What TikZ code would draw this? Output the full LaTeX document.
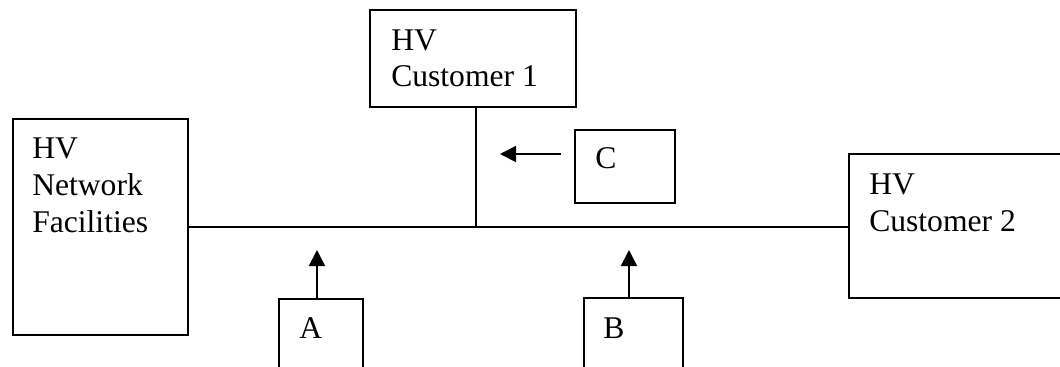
\documentclass[tikz,border=0pt]{standalone}
\usepackage{fontspec}
\setmainfont{Liberation Serif}
\usetikzlibrary{arrows.meta}
\tikzset{
  box/.style={draw, line width=1.4pt, inner sep=0pt, anchor=north west},
  lbl/.style={inner sep=0pt, anchor=base west, align=left,
    font=\fontsize{23.7}{27.5}\selectfont},
  wire/.style={line width=1.4pt},
  feed/.style={line width=1.4pt, -{Triangle[length=12pt, width=12pt]}}
}
\begin{document}
\begin{tikzpicture}[x=0.75pt, y=-0.75pt]
\useasboundingbox (0,0) rectangle (1060,367);
\clip (0,0) rectangle (1060,367);
% boxes
\node[box, minimum width=175*0.75pt, minimum height=216*0.75pt] (nf) at (12,118) {};
\node[box, minimum width=206*0.75pt, minimum height=97*0.75pt] (c1) at (369,9) {};
\node[box, minimum width=100*0.75pt, minimum height=73*0.75pt] (c) at (574,129) {};
\node[box, minimum width=230*0.75pt, minimum height=144*0.75pt] (c2) at (848,153) {};
\node[box, minimum width=84*0.75pt, minimum height=110*0.75pt] (a) at (278,298) {};
\node[box, minimum width=99*0.75pt, minimum height=110*0.75pt] (b) at (583,297) {};
% labels (base anchor sits on the last line)
\node[lbl] (nft) at (32,232) {HV\\Network\\Facilities};
\node[lbl] (c1t) at (391,87) {HV\\Customer 1};
\node[lbl] (ct) at (595,169) {C};
\node[lbl] (c2t) at (869,231) {HV\\Customer 2};
\node[lbl] (at) at (299,338) {A};
\node[lbl] (bt) at (603,338) {B};
% bus and branch
\draw[wire] (nf.east) -- (nf.east -| c2.west);
\coordinate (tap) at (476,226);
\draw[wire] (c1.south -| tap) -- (tap);
% measurement arrows
\coordinate (atip) at (317,250);
\coordinate (btip) at (629,250);
\coordinate (cfrom) at (561,154);
\coordinate (ctip) at (500,154);
\draw[feed] (a.north -| atip) -- (atip);
\draw[feed] (b.north -| btip) -- (btip);
\draw[feed] (cfrom) -- (ctip);
\end{tikzpicture}
\end{document}
